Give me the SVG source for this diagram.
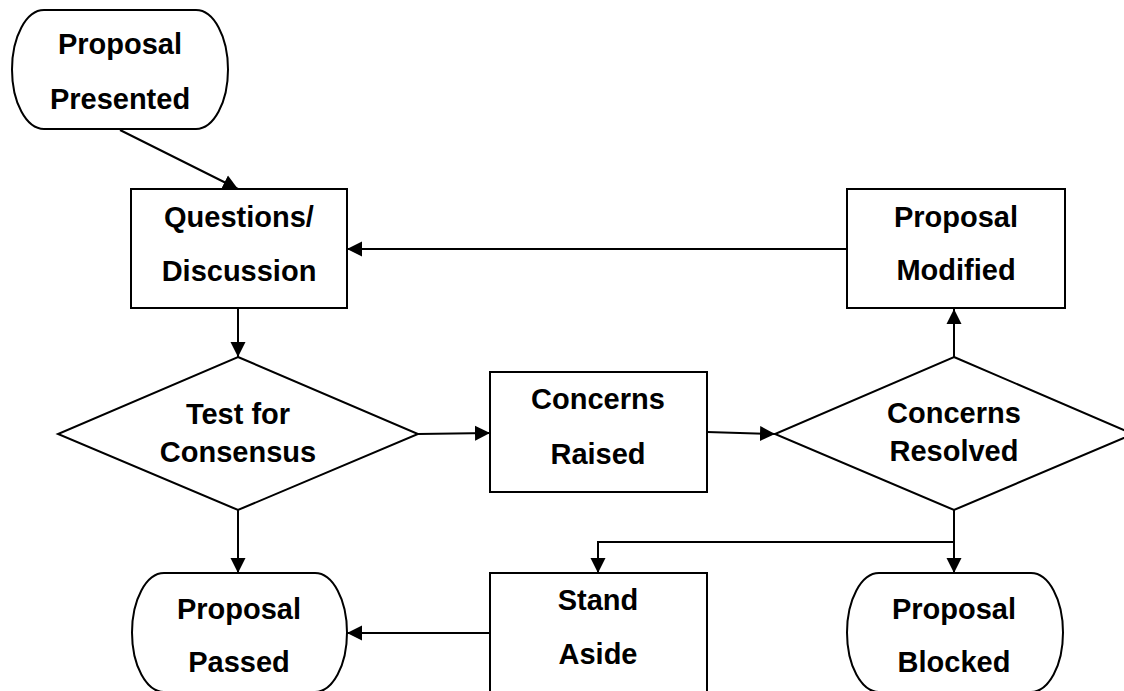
<svg xmlns="http://www.w3.org/2000/svg" width="1124" height="691" viewBox="0 0 1124 691">
<style>
.s{fill:#fff;stroke:#000;stroke-width:2}
.t{font-family:"Liberation Sans",Arial,sans-serif;font-weight:bold;font-size:29px;fill:#000;text-anchor:middle}
.c{fill:none;stroke:#000;stroke-width:2}
</style>
<defs>
<marker id="a" markerUnits="userSpaceOnUse" markerWidth="15" markerHeight="16" viewBox="0 0 15 16" refX="15" refY="8" orient="auto">
<path d="M0,0.5 L15,8 L0,15.5 z" fill="#000"/>
</marker>
</defs>
<rect width="1124" height="691" fill="#fff"/>
<g id="connectors">
<line class="c" x1="120" y1="130" x2="238" y2="189" marker-end="url(#a)"/>
<line class="c" x1="238" y1="308" x2="238" y2="357" marker-end="url(#a)"/>
<line class="c" x1="418" y1="434" x2="490" y2="433" marker-end="url(#a)"/>
<line class="c" x1="707" y1="432" x2="775" y2="434" marker-end="url(#a)"/>
<line class="c" x1="954" y1="357" x2="954" y2="309" marker-end="url(#a)"/>
<line class="c" x1="847" y1="249" x2="347" y2="249" marker-end="url(#a)"/>
<line class="c" x1="238" y1="510" x2="238" y2="573" marker-end="url(#a)"/>
<line class="c" x1="490" y1="633" x2="347" y2="633" marker-end="url(#a)"/>
<polyline class="c" points="954,510 954,542 598,542 598,573" marker-end="url(#a)"/>
<line class="c" x1="954" y1="542" x2="954" y2="573" marker-end="url(#a)"/>
</g>
<g id="proposal-presented">
<rect class="s" x="12" y="10" width="216" height="119" rx="32" ry="59.5"/>
<text class="t" x="120" y="54">Proposal</text>
<text class="t" x="120" y="109">Presented</text>
</g>
<g id="questions-discussion">
<rect class="s" x="131" y="189" width="216" height="119"/>
<text class="t" x="239" y="227">Questions/</text>
<text class="t" x="239" y="281">Discussion</text>
</g>
<g id="proposal-modified">
<rect class="s" x="847" y="189" width="218" height="119"/>
<text class="t" x="956" y="227">Proposal</text>
<text class="t" x="956" y="280">Modified</text>
</g>
<g id="test-for-consensus">
<polygon class="s" points="238,357 418,434 238,510 58,434"/>
<text class="t" x="238" y="424">Test for</text>
<text class="t" x="238" y="462">Consensus</text>
</g>
<g id="concerns-raised">
<rect class="s" x="490" y="372" width="217" height="120"/>
<text class="t" x="598" y="409">Concerns</text>
<text class="t" x="598" y="464">Raised</text>
</g>
<g id="concerns-resolved">
<polygon class="s" points="954,357 1133,434 954,510 775,434"/>
<text class="t" x="954" y="423">Concerns</text>
<text class="t" x="954" y="461">Resolved</text>
</g>
<g id="proposal-passed">
<rect class="s" x="132" y="573" width="215" height="119" rx="32" ry="59.5"/>
<text class="t" x="239" y="619">Proposal</text>
<text class="t" x="239" y="672">Passed</text>
</g>
<g id="stand-aside">
<rect class="s" x="490" y="573" width="217" height="122"/>
<text class="t" x="598" y="610">Stand</text>
<text class="t" x="598" y="664">Aside</text>
</g>
<g id="proposal-blocked">
<rect class="s" x="847" y="573" width="216" height="119" rx="32" ry="59.5"/>
<text class="t" x="954" y="619">Proposal</text>
<text class="t" x="954" y="672">Blocked</text>
</g>
</svg>
